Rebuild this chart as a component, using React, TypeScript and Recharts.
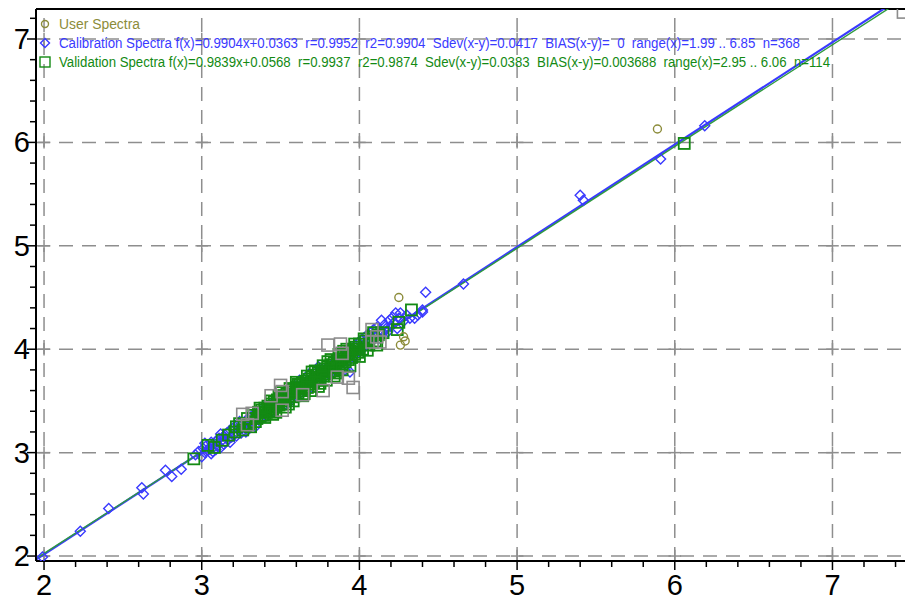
import React from 'react';
import { ScatterChart, Scatter, XAxis, YAxis, ReferenceLine } from 'recharts';

// ---------- axes ----------
const X_MIN = 1.949;
const X_MAX = 7.46;
const Y_MIN = 1.952;
const Y_MAX = 7.29;
const majorTicks = [2, 3, 4, 5, 6, 7];
const xTicks = [2.0, 2.2, 2.4, 2.6, 2.8, 3.0, 3.2, 3.4, 3.6, 3.8, 4.0, 4.2, 4.4, 4.6, 4.8, 5.0, 5.2, 5.4, 5.6, 5.8, 6.0, 6.2, 6.4, 6.6, 6.8, 7.0, 7.2, 7.4];
const yTicks = [2.0, 2.2, 2.4, 2.6, 2.8, 3.0, 3.2, 3.4, 3.6, 3.8, 4.0, 4.2, 4.4, 4.6, 4.8, 5.0, 5.2, 5.4, 5.6, 5.8, 6.0, 6.2, 6.4, 6.6, 6.8, 7.0, 7.2];

// ---------- legend ----------
const legendUser = 'User Spectra';
const legendCal = 'Calibration Spectra f(x)=0.9904x+0.0363  r=0.9952  r2=0.9904  Sdev(x-y)=0.0417  BIAS(x-y)=  0  range(x)=1.99 .. 6.85  n=368';
const legendVal = 'Validation Spectra f(x)=0.9839x+0.0568  r=0.9937  r2=0.9874  Sdev(x-y)=0.0383  BIAS(x-y)=0.003688  range(x)=2.95 .. 6.06  n=114';

// ---------- regression fits ----------
const calFit = { slope: 0.9904, intercept: 0.0363 };
const valFit = { slope: 0.9839, intercept: 0.0568 };

// ---------- data ----------
const userSpectra: [number, number][] = [
  [4.25, 4.50], [4.26, 4.04], [4.29, 4.08], [4.28, 4.12], [5.89, 6.13],
];

const calibration: [number, number][] = [
  [1.99, 1.99], [2.23, 2.24], [2.41, 2.46], [2.62, 2.66], [2.63, 2.60], [2.77, 2.83], [2.81, 2.77], [2.87, 2.84], [2.96, 2.98],
  [2.98, 3.01], [3.00, 2.96], [3.01, 3.04], [3.02, 3.00], [3.03, 3.07], [3.04, 3.02], [3.05, 3.05], [3.06, 3.10], [3.07, 3.01],
  [3.08, 3.06], [3.09, 3.11], [3.10, 3.07], [3.11, 3.14], [3.12, 3.05], [3.13, 3.12], [3.14, 3.16], [3.15, 3.10], [3.16, 3.19],
  [3.17, 3.13], [3.18, 3.22], [3.19, 3.15], [3.20, 3.24], [3.21, 3.18], [3.22, 3.16], [3.23, 3.27], [3.24, 3.22], [3.25, 3.19],
  [3.26, 3.29], [3.27, 3.24], [3.28, 3.31], [3.29, 3.22], [3.30, 3.34], [3.31, 3.27], [3.32, 3.36], [3.33, 3.30], [3.34, 3.25],
  [3.35, 3.38], [3.02, 3.09], [3.06, 2.99], [3.12, 3.18], [3.18, 3.10], [3.24, 3.30], [3.28, 3.20], [3.14, 3.08], [3.09, 3.03],
  [3.37, 3.33], [3.39, 3.44], [3.41, 3.36], [3.43, 3.47], [3.45, 3.40], [3.47, 3.52], [3.49, 3.44], [3.51, 3.55], [3.53, 3.47],
  [3.55, 3.58], [3.57, 3.52], [3.59, 3.61], [3.61, 3.55], [3.63, 3.66], [3.65, 3.59], [3.67, 3.70], [3.69, 3.63], [3.71, 3.74],
  [3.73, 3.68], [3.75, 3.78], [3.77, 3.72], [3.79, 3.82], [3.81, 3.76], [3.83, 3.86], [3.85, 3.80], [3.86, 3.83], [3.87, 3.90],
  [3.88, 3.81], [3.89, 3.93], [3.91, 3.80], [3.92, 3.96], [3.94, 3.78], [3.93, 3.89], [3.95, 4.00], [3.38, 3.40], [3.46, 3.47],
  [3.52, 3.51], [3.58, 3.57], [3.64, 3.63], [3.70, 3.69], [3.76, 3.75], [3.82, 3.80], [3.62, 3.70], [3.68, 3.76], [3.74, 3.83],
  [3.56, 3.49], [3.96, 3.93], [3.97, 4.03], [3.98, 3.96], [3.99, 4.06], [4.00, 3.98], [4.01, 4.09], [4.02, 4.01], [4.03, 4.11],
  [4.04, 4.03], [4.05, 4.14], [4.06, 4.06], [4.07, 4.16], [4.08, 4.08], [4.09, 4.19], [4.10, 4.12], [4.11, 4.21], [4.12, 4.10],
  [4.13, 4.19], [4.14, 4.28], [4.15, 4.16], [4.16, 4.24], [4.17, 4.20], [4.18, 4.17], [4.19, 4.28], [4.20, 4.22], [4.21, 4.31],
  [4.22, 4.26], [4.23, 4.35], [4.24, 4.20], [4.25, 4.30], [4.26, 4.35], [4.28, 4.27], [4.30, 4.33], [4.32, 4.30], [4.35, 4.30],
  [4.37, 4.33], [4.40, 4.36], [4.40, 4.38], [4.42, 4.55], [4.66, 4.63], [5.40, 5.49], [5.42, 5.44], [5.91, 5.84], [6.19, 6.16],
];

const validation: [number, number][] = [
  [2.95, 2.94], [3.04, 3.07], [3.08, 3.05], [3.13, 3.12], [3.17, 3.17], [3.21, 3.20], [3.24, 3.28], [3.27, 3.26], [3.30, 3.28],
  [3.33, 3.36], [4.15, 4.16], [4.24, 4.19], [4.25, 4.26], [4.33, 4.38], [6.06, 5.99],
  [3.35, 3.33], [3.36, 3.39], [3.37, 3.35], [3.38, 3.41], [3.39, 3.36], [3.40, 3.43], [3.41, 3.39], [3.42, 3.45], [3.43, 3.40],
  [3.44, 3.47], [3.45, 3.42], [3.46, 3.49], [3.47, 3.44], [3.48, 3.51], [3.49, 3.46], [3.50, 3.53], [3.51, 3.47], [3.52, 3.55],
  [3.53, 3.50], [3.54, 3.57], [3.55, 3.52], [3.56, 3.59], [3.57, 3.54], [3.58, 3.61], [3.59, 3.55], [3.60, 3.63], [3.61, 3.58],
  [3.62, 3.65], [3.63, 3.60], [3.64, 3.67], [3.65, 3.62], [3.66, 3.69], [3.67, 3.63], [3.68, 3.71], [3.69, 3.66], [3.70, 3.73],
  [3.71, 3.68], [3.72, 3.75], [3.73, 3.70], [3.74, 3.77], [3.75, 3.71], [3.76, 3.79], [3.77, 3.74], [3.78, 3.81], [3.79, 3.76],
  [3.80, 3.83], [3.81, 3.78], [3.82, 3.85], [3.83, 3.79], [3.84, 3.87], [3.85, 3.82], [3.86, 3.89], [3.87, 3.84], [3.88, 3.91],
  [3.89, 3.86], [3.90, 3.93], [3.91, 3.88], [3.92, 3.95], [3.93, 3.90], [3.94, 3.98], [3.95, 3.92], [3.96, 4.00], [3.97, 3.95],
  [3.98, 4.02], [3.99, 3.97], [4.00, 4.05], [4.02, 4.00], [4.04, 4.08], [4.06, 4.04], [4.08, 4.12], [4.10, 4.08], [4.12, 4.14],
  [3.45, 3.37], [3.55, 3.47], [3.65, 3.57], [3.75, 3.67], [3.85, 3.77], [3.50, 3.58], [3.60, 3.68], [3.70, 3.78], [3.80, 3.88],
  [3.90, 3.98], [3.62, 3.62], [3.72, 3.72], [3.82, 3.82], [3.52, 3.52], [3.42, 3.42],
  [3.22, 3.25], [3.26, 3.22], [3.29, 3.33], [3.31, 3.25], [3.34, 3.30], [3.37, 3.43], [3.40, 3.34], [3.44, 3.50], [3.47, 3.39],
  [3.49, 3.55], [3.53, 3.44], [3.56, 3.62], [3.58, 3.50], [3.61, 3.66], [3.64, 3.55], [3.67, 3.74], [3.69, 3.60], [3.72, 3.79],
  [3.74, 3.64], [3.77, 3.84], [3.79, 3.70], [3.82, 3.90], [3.84, 3.74], [3.87, 3.95], [3.89, 3.80], [3.92, 4.00], [3.94, 3.84],
  [3.97, 4.05], [4.00, 3.93], [4.03, 4.10], [4.05, 3.99], [4.09, 4.16], [4.11, 4.04],
];

const validationExcluded: [number, number][] = [
  [3.26, 3.37], [3.32, 3.38], [3.44, 3.55], [3.50, 3.65], [3.51, 3.59], [3.51, 3.41], [3.64, 3.56], [3.77, 3.60], [3.86, 3.73],
  [3.93, 3.72], [3.96, 3.63], [3.80, 4.04], [3.88, 4.05], [3.89, 3.96], [4.08, 4.19], [4.08, 4.07], [4.13, 4.07], [4.11, 4.12],
  [3.29, 3.27], [7.45, 7.26],
];

// ---------- styles ----------
const BLUE = '#3a3aff';
const GREEN = '#138a13';
const GRAY = '#8c8c8c';
const OLIVE = '#8c8c3a';
const GRID = '#8e8e8e';
const FONT = '"Liberation Sans", Arial, sans-serif';
const ARM_X = 0.04;
const ARM_Y = 0.06;

const toPts = (arr: [number, number][]) => arr.map(([x, y]) => ({ x, y }));

const Diamond = (p: any) => (
  <path d={`M${p.cx},${p.cy - 5}L${p.cx + 5},${p.cy}L${p.cx},${p.cy + 5}L${p.cx - 5},${p.cy}Z`} fill="none" stroke={BLUE} strokeWidth={1.4} />
);
const SquareG = (p: any) => (
  <rect x={p.cx - 5.5} y={p.cy - 5.5} width={11} height={11} fill="none" stroke={GREEN} strokeWidth={1.8} />
);
const SquareGray = (p: any) => (
  <rect x={p.cx - 6} y={p.cy - 6} width={12} height={12} fill="none" stroke={GRAY} strokeWidth={1.6} />
);
const Circle = (p: any) => (
  <circle cx={p.cx} cy={p.cy} r={4} fill="none" stroke={OLIVE} strokeWidth={1.4} />
);

const isMajor = (v: number) => Math.abs(v - Math.round(v)) < 1e-6;

const XTick = (props: any) => {
  const { x, y, payload } = props;
  const v = payload.value;
  const major = isMajor(v);
  return (
    <g>
      <line x1={x} y1={y} x2={x} y2={y + (major ? 9 : 6)} stroke="#000" strokeWidth={1.5} />
      {major && (
        <text x={x} y={y + 34} textAnchor="middle" fontSize={29} fontFamily={FONT} fill="#000">
          {Math.round(v)}
        </text>
      )}
    </g>
  );
};

const YTick = (props: any) => {
  const { x, y, payload } = props;
  const v = payload.value;
  const major = isMajor(v);
  return (
    <g>
      <line x1={x - (major ? 9 : 6)} y1={y} x2={x} y2={y} stroke="#000" strokeWidth={1.5} />
      {major && (
        <text x={x - 6} y={y + 10} textAnchor="end" fontSize={29} fontFamily={FONT} fill="#000">
          {Math.round(v)}
        </text>
      )}
    </g>
  );
};

const fitSeg = (f: { slope: number; intercept: number }) => [
  { x: X_MIN, y: f.slope * X_MIN + f.intercept },
  { x: X_MAX, y: f.slope * X_MAX + f.intercept },
];

export default function App() {
  const crosses: JSX.Element[] = [];
  majorTicks.forEach((gx) =>
    majorTicks.forEach((gy) => {
      crosses.push(
        <ReferenceLine key={`ch${gx}-${gy}`} segment={[{ x: gx - ARM_X, y: gy }, { x: gx + ARM_X, y: gy }]} stroke={GRID} strokeWidth={1.5} ifOverflow="hidden" />
      );
      crosses.push(
        <ReferenceLine key={`cv${gx}-${gy}`} segment={[{ x: gx, y: gy - ARM_Y }, { x: gx, y: gy + ARM_Y }]} stroke={GRID} strokeWidth={1.5} ifOverflow="hidden" />
      );
    })
  );

  return (
    <div style={{ position: 'absolute', left: 0, top: 0, width: 905, height: 606, background: '#fff' }}>
      <ScatterChart width={905} height={606} margin={{ top: 9, right: 0, bottom: 0, left: 0 }}>
        <XAxis
          type="number"
          dataKey="x"
          domain={[X_MIN, X_MAX]}
          allowDataOverflow
          ticks={xTicks}
          interval={0}
          tickSize={0}
          tickMargin={0}
          height={45}
          axisLine={{ stroke: '#000', strokeWidth: 2 }}
          tickLine={false}
          tick={<XTick />}
        />
        <YAxis
          type="number"
          dataKey="y"
          domain={[Y_MIN, Y_MAX]}
          allowDataOverflow
          ticks={yTicks}
          interval={0}
          tickSize={0}
          tickMargin={0}
          width={36}
          axisLine={{ stroke: '#000', strokeWidth: 2 }}
          tickLine={false}
          tick={<YTick />}
        />
        {majorTicks.map((v) => (
          <ReferenceLine key={`gx${v}`} x={v} stroke={GRID} strokeWidth={1.5} strokeDasharray="14 9" />
        ))}
        {majorTicks.map((v) => (
          <ReferenceLine key={`gy${v}`} y={v} stroke={GRID} strokeWidth={1.5} strokeDasharray="14 9" />
        ))}
        {crosses}
        <ReferenceLine y={Y_MAX} stroke="#000" strokeWidth={2} />
        <Scatter data={toPts(calibration)} shape={Diamond} isAnimationActive={false} />
        <Scatter data={toPts(validation)} shape={SquareG} isAnimationActive={false} />
        <Scatter data={toPts(validationExcluded)} shape={SquareGray} isAnimationActive={false} />
        <Scatter data={toPts(userSpectra)} shape={Circle} isAnimationActive={false} />
        <ReferenceLine segment={fitSeg(calFit)} stroke={BLUE} strokeWidth={2.2} ifOverflow="hidden" />
        <ReferenceLine segment={fitSeg(valFit)} stroke="#2f9a3f" strokeWidth={1.4} ifOverflow="hidden" />
      </ScatterChart>
      <svg width={905} height={80} style={{ position: 'absolute', left: 0, top: 0, pointerEvents: 'none' }}>
        <circle cx={45} cy={24} r={3.5} fill="none" stroke={OLIVE} strokeWidth={1.4} />
        <text x={59} y={29} fontSize={14} fontFamily={FONT} fill={OLIVE} textLength={81} lengthAdjust="spacingAndGlyphs" style={{ whiteSpace: 'pre' }}>
          {legendUser}
        </text>
        <path d="M45,38.5L49.5,43L45,47.5L40.5,43Z" fill="none" stroke={BLUE} strokeWidth={1.4} />
        <text x={59} y={48} fontSize={14} fontFamily={FONT} fill={BLUE} textLength={741} lengthAdjust="spacingAndGlyphs" style={{ whiteSpace: 'pre' }}>
          {legendCal}
        </text>
        <rect x={40} y={57} width={10} height={10} fill="none" stroke={GREEN} strokeWidth={1.4} />
        <text x={59} y={67} fontSize={14} fontFamily={FONT} fill={GREEN} textLength={771} lengthAdjust="spacingAndGlyphs" style={{ whiteSpace: 'pre' }}>
          {legendVal}
        </text>
      </svg>
    </div>
  );
}
